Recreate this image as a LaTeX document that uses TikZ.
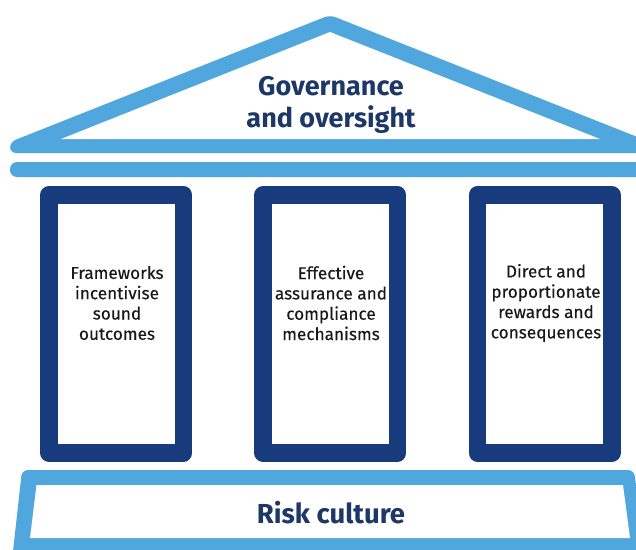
\documentclass[tikz,border=0pt]{standalone}
\usepackage{fontspec}
\setmainfont{Fira Sans}
\newfontfamily\pillarfont[FakeBold=0.25]{Fira Sans}
\definecolor{roofblue}{HTML}{4FA7DE}
\definecolor{pillarnavy}{HTML}{173B7C}
\definecolor{titlenavy}{HTML}{1D3766}
\begin{document}
\begin{tikzpicture}[x=1pt,y=-1pt,
  pillar/.style={draw=pillarnavy, line width=17.5pt, line join=round,
    minimum width=134.5pt, minimum height=258pt, inner sep=0pt},
  pillartext/.style={align=center, font=\pillarfont\fontsize{17.2}{20.3}\selectfont,
    text=black!90, inner sep=0pt},
  heading/.style={align=center, font=\fontsize{27}{32}\selectfont\bfseries,
    text=titlenavy, inner sep=0pt}]
\useasboundingbox (0,0) rectangle (636,549);
\clip (0,0) rectangle (636,549);
\fill[white] (0,0) rectangle (636,549);

% pediment
\fill[roofblue, rounded corners=6pt]
  (330,15) -- (10,142) -- (10,153) -- (650,153) -- (650,142) -- cycle;
\fill[white] (61,139) -- (330,32) -- (600,139) -- cycle;
\node[heading] (gov) at (331,104.5) {Governance\\and oversight};

% entablature bar
\fill[roofblue, rounded corners=7pt] (10,162) rectangle (660,177);

% pillars
\node[pillar] (p1) at (116.25,323.9) {};
\node[pillar] (p2) at (330.25,323.9) {};
\node[pillar] (p3) at (544.5,323.9) {};
\node[pillartext] (t1) at (117,303) {Frameworks\\incentivise\\sound\\outcomes};
\node[pillartext] (t2) at (331,303) {Effective\\assurance and\\compliance\\mechanisms};
\node[pillartext] (t3) at (546,303) {Direct and\\proportionate\\rewards and\\consequences};

% base
\fill[roofblue, rounded corners=6pt]
  (12,560) -- (22,470) -- (634,470) -- (646,560) -- cycle;
\fill[white] (36.5,485) -- (623,485) -- (630,538) -- (30,538) -- cycle;
\node[heading, font=\fontsize{27.5}{30}\selectfont\bfseries] (risk) at (331,513) {Risk culture};
\end{tikzpicture}
\end{document}
